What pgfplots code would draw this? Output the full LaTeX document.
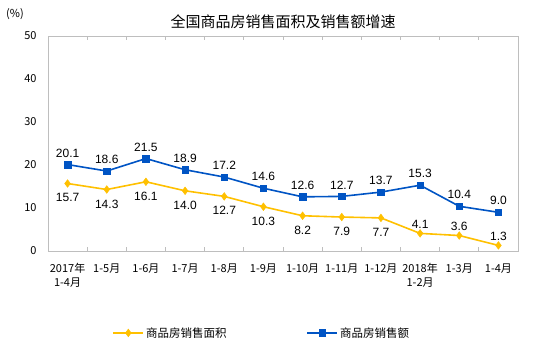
\documentclass[border=0pt]{standalone}
\usepackage{pgfplots}
\pgfplotsset{compat=1.18}
\usepackage{fontspec}
\setmainfont{Liberation Sans}
\newfontfamily\cjk{Noto Sans CJK SC}
\newfontfamily\arial{Liberation Sans}
\definecolor{cblue}{RGB}{0,84,196}
\definecolor{cyellow}{RGB}{255,192,0}
\definecolor{frame}{RGB}{190,190,190}
\begin{document}
\begin{tikzpicture}[x=1bp,y=1bp]
\useasboundingbox (0,0) rectangle (538,-346);
\begin{axis}[
  at={(48bp,-251bp)}, anchor=south west,
  scale only axis, width=470bp, height=215bp,
  xmin=-0.5, xmax=11.5, ymin=0, ymax=50,
  ytick={0,10,...,50},
  xtick={0,...,11},
  xticklabels={{2017年\\1-4月},{1-5月},{1-6月},{1-7月},{1-8月},{1-9月},{1-10月},{1-11月},{1-12月},{2018年\\1-2月},{1-3月},{1-4月}},
  minor xtick={0.5,1.5,...,10.5},
  major tick length=0pt,
  minor tick length=4bp,
  tick align=inside,
  minor tick style={frame, line width=0.8bp},
  axis line style={frame, line width=0.8bp},
  xticklabel style={font=\cjk\fontsize{11bp}{14bp}\selectfont, align=center, anchor=north, yshift=-9bp},
  yticklabel style={font=\cjk\fontsize{11bp}{13bp}\selectfont, anchor=east, xshift=-8bp},
  /pgf/number format/assume math mode=true,
  nodes near coords={\pgfmathprintnumber[fixed,fixed zerofill,precision=1]{\pgfplotspointmeta}},
  nodes near coords style={font=\arial\fontsize{12bp}{14bp}\selectfont, text=black},
  legend columns=2,
  legend style={draw=none, fill=none, at={(0.455,-0.381)}, anchor=center,
    font=\cjk\fontsize{11.5bp}{13bp}\selectfont,
    /tikz/every even column/.append style={column sep=78bp}},
  legend image code/.code={\draw[mark repeat=2,mark phase=2] plot coordinates {(0bp,0bp) (15bp,0bp) (30bp,0bp)};},
]
\addplot[cyellow, line width=1.6bp, mark=diamond*, mark size=3.8bp, mark options={fill=cyellow, line width=0.5bp},
  nodes near coords=\relax]
  coordinates {(0,15.7)(1,14.3)(2,16.1)(3,14.0)(4,12.7)(5,10.3)(6,8.2)(7,7.9)(8,7.7)(9,4.1)(10,3.6)(11,1.3)};
\addlegendentry{商品房销售面积}
\addplot[cblue, line width=1.6bp, mark=square*, mark size=3.2bp, mark options={fill=cblue, line width=0.5bp},
  every node near coord/.append style={anchor=south, inner sep=0pt, yshift=7bp}]
  coordinates {(0,20.1)(1,18.6)(2,21.5)(3,18.9)(4,17.2)(5,14.6)(6,12.6)(7,12.7)(8,13.7)(9,15.3)(10,10.4)(11,9.0)};
\addlegendentry{商品房销售额}
% yellow value labels: below for the first nine points, above for the last three
\addplot[draw=none, mark=none, forget plot,
  every node near coord/.append style={anchor=north, inner sep=0pt, yshift=-10bp}]
  coordinates {(0,15.7)(1,14.3)(2,16.1)(3,14.0)(4,12.7)(5,10.3)(6,8.2)(7,7.9)(8,7.7)};
\addplot[draw=none, mark=none, forget plot,
  every node near coord/.append style={anchor=south, inner sep=0pt, yshift=5bp}]
  coordinates {(9,4.1)(10,3.6)(11,1.3)};
\end{axis}
\node[font=\cjk\fontsize{15bp}{17bp}\selectfont] at (283,-22) {全国商品房销售面积及销售额增速};
\node[font=\cjk\fontsize{11bp}{13bp}\selectfont] at (15,-14) {(\%)};
\end{tikzpicture}
\end{document}
